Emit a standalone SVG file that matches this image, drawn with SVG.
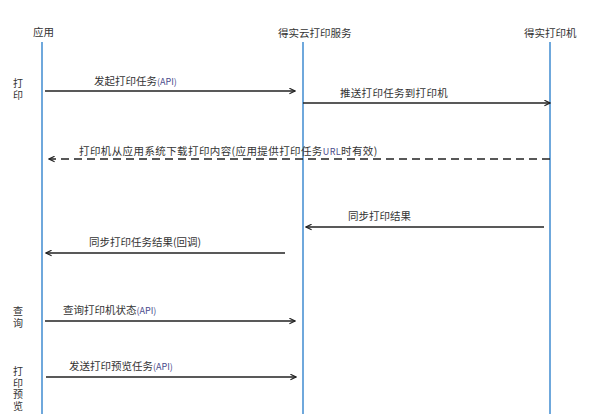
<svg xmlns="http://www.w3.org/2000/svg" width="593" height="420" viewBox="0 0 593 420">
<defs>
<style>
text{font-family:"Microsoft YaHei","Noto Sans CJK SC","Liberation Sans",sans-serif;font-size:10.5px;fill:#333;}
.hd{font-size:10.5px;}
.api{fill:#4b4b8c;font-size:9px;}
.side{font-size:10px;writing-mode:vertical-rl;letter-spacing:2.5px;}
.life{stroke:#6fa8dc;stroke-width:2;fill:none;}
.msg{stroke:#222;stroke-width:1.6;fill:none;marker-end:url(#ah);}
.dash{stroke-dasharray:8,5;}
</style>
<marker id="ah" viewBox="0 0 10 10" refX="9" refY="5" markerWidth="7" markerHeight="7" markerUnits="userSpaceOnUse" orient="auto">
<path d="M1,1 L9,5 L1,9" fill="none" stroke="#222" stroke-width="1.6"/>
</marker>
</defs>
<rect width="593" height="420" fill="#fff"/>
<g id="app">
<text class="hd" x="33" y="36">应用</text>
<line class="life" x1="42" y1="42" x2="42" y2="414"/>
</g>
<g id="cloud">
<text class="hd" x="278" y="37">得实云打印服务</text>
<line class="life" x1="303" y1="42" x2="303" y2="414"/>
</g>
<g id="printer">
<text class="hd" x="524" y="37">得实打印机</text>
<line class="life" x1="550" y1="42" x2="550" y2="414"/>
</g>
<g id="side-labels">
<text class="side" x="18" y="78">打印</text>
<text class="side" x="18" y="306">查询</text>
<text class="side" x="18" y="366" style="letter-spacing:1.8px">打印预览</text>
</g>
<g id="connectors">
<line class="msg" x1="45" y1="91" x2="295" y2="91"/>
<text x="94" y="85">发起打印任务<tspan class="api">(API)</tspan></text>
<line class="msg" x1="303" y1="103" x2="550" y2="103"/>
<text x="340" y="97" letter-spacing="0.3">推送打印任务到打印机</text>
<line class="msg dash" x1="550" y1="159" x2="49" y2="159"/>
<text x="79" y="155" letter-spacing="0.4">打印机从应用系统下载打印内容(应用提供打印任务<tspan class="api">URL</tspan>时有效)</text>
<line class="msg" x1="544" y1="227" x2="306" y2="227"/>
<text x="348" y="220">同步打印结果</text>
<line class="msg" x1="285" y1="253" x2="46" y2="253"/>
<text x="89" y="246">同步打印任务结果(回调)</text>
<line class="msg" x1="45" y1="321" x2="295" y2="321"/>
<text x="63" y="314">查询打印机状态<tspan class="api">(API)</tspan></text>
<line class="msg" x1="46" y1="377" x2="296" y2="377"/>
<text x="69" y="370">发送打印预览任务<tspan class="api">(API)</tspan></text>
</g>
</svg>
